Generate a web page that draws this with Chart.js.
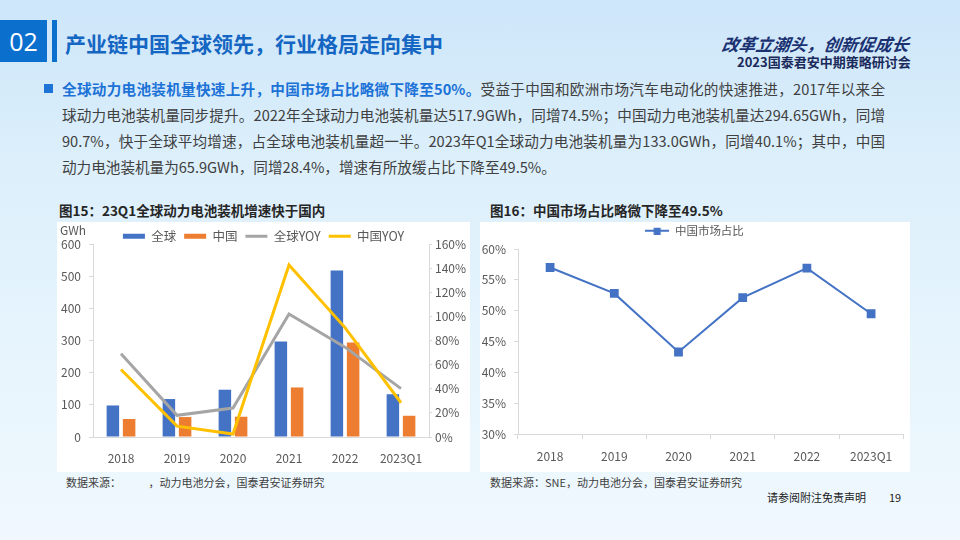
<!DOCTYPE html>
<html><head><meta charset="utf-8">
<script src="https://cdn.jsdelivr.net/npm/chart.js@4.4.0/dist/chart.umd.min.js"></script>
<style>
*{margin:0;padding:0;box-sizing:border-box}
body{width:960px;height:540px;overflow:hidden;position:relative;font-family:"Noto Sans CJK SC","Noto Sans",sans-serif;
background:linear-gradient(180deg,#cde6f9 0%,#dceffb 30%,#e8f5fd 70%,#f0f8fe 100%);}
.abs{position:absolute;white-space:nowrap}
#numbox{left:0;top:20px;width:47px;height:42px;background:#0b6fce;color:#fff;font-size:25px;line-height:42px;text-align:center;font-family:"Open Sans","Noto Sans",sans-serif}
#vbar{left:52px;top:20px;width:5px;height:42px;background:#0b6fce}
#title{left:65px;top:29px;font-size:21px;font-weight:bold;color:#1466c2;line-height:28px}
#slogan{left:722px;top:31px;font-size:17px;font-style:italic;font-weight:bold;color:#1b3272;line-height:26px;transform:skewX(-8deg)}
#conf{left:737px;top:54px;font-size:13px;font-weight:bold;color:#1a2a5a;line-height:16px}
#bullet{left:44px;top:84px;width:9px;height:9px;background:#1e74d4}
.pl{left:62px;font-size:14.6px;color:#404040;line-height:20px;width:823px;text-align:justify;text-align-last:justify}
.pl b{color:#1c72d6}
.panel{background:#fff}
.ct{font-size:13.5px;font-weight:bold;color:#262626;line-height:18px}
.src{font-size:11px;color:#404040;line-height:16px}
</style></head><body>
<div class="abs" id="numbox">02</div>
<div class="abs" id="vbar"></div>
<div class="abs" id="title">产业链中国全球领先，行业格局走向集中</div>
<div class="abs" id="slogan">改革立潮头，创新促成长</div>
<div class="abs" id="conf">2023国泰君安中期策略研讨会</div>
<div class="abs" id="bullet"></div>
<div class="abs pl" style="top:79px"><b>全球动力电池装机量快速上升，中国市场占比略微下降至50%。</b>受益于中国和欧洲市场汽车电动化的快速推进，2017年以来全</div>
<div class="abs pl" style="top:105px">球动力电池装机量同步提升。2022年全球动力电池装机量达517.9GWh，同增74.5%；中国动力电池装机量达294.65GWh，同增</div>
<div class="abs pl" style="top:131px">90.7%，快于全球平均增速，占全球电池装机量超一半。2023年Q1全球动力电池装机量为133.0GWh，同增40.1%；其中，中国</div>
<div class="abs pl" style="top:157px;text-align-last:left;width:auto">动力电池装机量为65.9GWh，同增28.4%，增速有所放缓占比下降至49.5%。</div>

<div class="abs ct" style="left:59px;top:201px">图15：23Q1全球动力电池装机增速快于国内</div>
<div class="abs ct" style="left:490px;top:201px">图16：中国市场占比略微下降至49.5%</div>

<div class="abs panel" style="left:57px;top:222px;width:413px;height:250px"></div>
<div class="abs panel" style="left:480px;top:222px;width:430px;height:250px"></div>
<div class="abs" style="left:57px;top:222px;width:413px;height:250px"><canvas id="c1" width="413" height="250"></canvas></div>
<div class="abs" style="left:480px;top:222px;width:430px;height:250px"><canvas id="c2" width="430" height="250"></canvas></div>
<div class="abs" style="left:60px;top:222px;font-size:12px;color:#595959;line-height:16px">GWh</div>

<div class="abs src" style="left:66px;top:474px">数据来源：&#12288;&#12288;&#12288;，动力电池分会，国泰君安证券研究</div>
<div class="abs src" style="left:490px;top:474px">数据来源：SNE，动力电池分会，国泰君安证券研究</div>
<div class="abs" style="left:767px;top:489px;font-size:11px;color:#1a1a1a;line-height:16px">请参阅附注免责声明</div>
<div class="abs" style="left:889px;top:489px;font-size:11px;color:#1a1a1a;line-height:16px">19</div>

<script>
const years = ['2018','2019','2020','2021','2022','2023Q1'];
const globalGWh = [98, 118, 147, 297, 518, 133];
const chinaGWh = [56, 62, 63, 154, 294, 66];
const globalYoY = [69, 18, 24, 102, 74.5, 40.1];
const chinaYoY = [56, 9, 2.5, 142.6, 90.7, 28.4];
const chinaShare = [57.0, 52.8, 43.3, 52.1, 56.9, 49.5];
const leftTicks = [0, 600, 100];
const rightTicks = [0, 160, 20];
const shareTicks = [30, 60, 5];

const FONT = '"Noto Sans CJK SC","Noto Sans",sans-serif';
const TXT = '#595959';
const AX = '#d9d9d9';

function legendHeight(h){
  return {id:'legH'+h, beforeInit(chart){
    const fit = chart.legend.fit;
    chart.legend.fit = function(){ fit.bind(chart.legend)(); this.height = h; };
  }};
}

new Chart(document.getElementById('c1'), {
  data: {
    labels: years,
    datasets: [
      {type:'bar', label:'全球', data: globalGWh, backgroundColor:'#4472C4', yAxisID:'y', order:2,
       categoryPercentage:0.58, barPercentage:0.77},
      {type:'bar', label:'中国', data: chinaGWh, backgroundColor:'#ED7D31', yAxisID:'y', order:2,
       categoryPercentage:0.58, barPercentage:0.77},
      {type:'line', label:'全球YOY', data: globalYoY, borderColor:'#A5A5A5', backgroundColor:'#A5A5A5',
       borderWidth:3, pointRadius:0, yAxisID:'y2', order:1, tension:0},
      {type:'line', label:'中国YOY', data: chinaYoY, borderColor:'#FFC000', backgroundColor:'#FFC000',
       borderWidth:3, pointRadius:0, yAxisID:'y2', order:0, tension:0}
    ]
  },
  options: {
    responsive:false, animation:false, devicePixelRatio:1,
    layout:{padding:0},
    plugins:{
      tooltip:{enabled:false},
      legend:{display:true, position:'top',
        labels:{font:{family:FONT,size:12.5}, color:TXT, usePointStyle:true, pointStyleWidth:22, boxWidth:22, boxHeight:5, padding:8,
          generateLabels(chart){
            const items = Chart.defaults.plugins.legend.labels.generateLabels(chart);
            items.sort((a,b)=>a.datasetIndex-b.datasetIndex);
            items.forEach(it=>{
              const ds = chart.data.datasets[it.datasetIndex];
              it.text = ds.label;
              it.pointStyle = ds.type==='bar' ? 'rect' : 'line';
              it.fillStyle = ds.backgroundColor; it.strokeStyle = ds.type==='bar' ? ds.backgroundColor : ds.borderColor;
              it.lineWidth = ds.type==='bar' ? 0 : 3;
            });
            return items;
          }}}
    },
    scales:{
      x:{grid:{display:false, drawTicks:false}, border:{display:true, color:AX},
         ticks:{font:{family:FONT,size:12}, color:TXT, padding:14, maxRotation:0},
         afterFit(s){ s.height = 35; }},
      y:{position:'left', min:leftTicks[0], max:leftTicks[1],
         ticks:{stepSize:leftTicks[2], font:{family:FONT,size:12}, color:TXT, padding:8},
         grid:{display:true, drawOnChartArea:false, drawTicks:true, tickLength:4, color:AX},
         border:{display:true, color:AX},
         afterFit(s){ s.width = 36; }},
      y2:{position:'right', min:rightTicks[0], max:rightTicks[1],
         ticks:{stepSize:rightTicks[2], font:{family:FONT,size:12}, color:TXT, padding:3, callback:v=>v+'%'},
         grid:{display:true, drawOnChartArea:false, drawTicks:true, tickLength:3, color:AX},
         border:{display:true, color:AX},
         afterFit(s){ s.width = 41; }}
    }
  },
  plugins:[legendHeight(22)]
});

// legend icon: line with square marker
const icon = document.createElement('canvas');
icon.width = 24; icon.height = 8;
(function(){
  const g = icon.getContext('2d');
  g.strokeStyle = '#4472C4'; g.lineWidth = 2;
  g.beginPath(); g.moveTo(0,4); g.lineTo(24,4); g.stroke();
  g.fillStyle = '#4472C4'; g.fillRect(8.5,1,7,7);
})();

new Chart(document.getElementById('c2'), {
  type:'line',
  data:{labels: years, datasets:[
    {label:'中国市场占比', data: chinaShare, borderColor:'#4472C4', backgroundColor:'#4472C4',
     borderWidth:2, pointStyle:'rect', pointRadius:4.8, pointBorderColor:'#4472C4', pointBackgroundColor:'#4472C4', tension:0}
  ]},
  options:{
    responsive:false, animation:false, devicePixelRatio:1,
    layout:{padding:{right:1}},
    plugins:{
      tooltip:{enabled:false},
      legend:{display:true, position:'top',
        labels:{font:{family:FONT,size:11.5}, color:TXT, usePointStyle:true, pointStyleWidth:24, boxWidth:24, boxHeight:8, padding:3,
          generateLabels(chart){
            const items = Chart.defaults.plugins.legend.labels.generateLabels(chart);
            items.forEach(it=>{ it.pointStyle = icon; });
            return items;
          }}}
    },
    scales:{
      x:{offset:true, grid:{display:true, offset:true, drawOnChartArea:false, drawTicks:true, tickLength:5, color:AX},
         border:{display:true, color:AX},
         ticks:{font:{family:FONT,size:12}, color:TXT, padding:10, maxRotation:0},
         afterFit(s){ s.height = 38; }},
      y:{min:shareTicks[0], max:shareTicks[1],
         ticks:{stepSize:shareTicks[2], font:{family:FONT,size:12}, color:TXT, padding:8, callback:v=>v+'%'},
         grid:{display:true, drawOnChartArea:false, drawTicks:true, tickLength:4, color:AX},
         border:{display:true, color:AX},
         afterFit(s){ s.width = 38; }}
    }
  },
  plugins:[legendHeight(27)]
});
</script>
</body></html>
